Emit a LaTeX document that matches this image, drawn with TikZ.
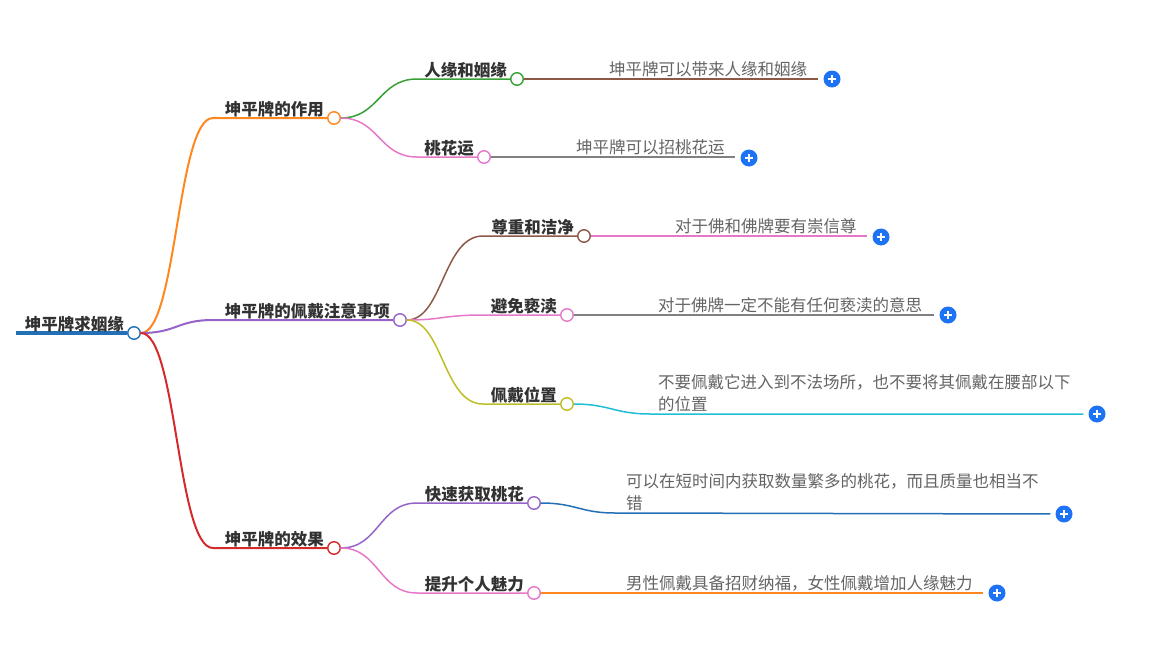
\documentclass[tikz,border=0pt]{standalone}
\usepackage{fontspec}
\setmainfont{Noto Sans CJK SC}
\usetikzlibrary{calc,positioning}
\definecolor{rootblue}{RGB}{35,112,182}
\definecolor{brorange}{RGB}{255,135,30}
\definecolor{brpurple}{RGB}{150,100,200}
\definecolor{brred}{RGB}{212,42,42}
\definecolor{brgreen}{RGB}{55,160,55}
\definecolor{brpink}{RGB}{230,120,200}
\definecolor{brbrown}{RGB}{140,88,72}
\definecolor{brolive}{RGB}{192,190,40}
\definecolor{brcyan}{RGB}{30,190,215}
\definecolor{brblue}{RGB}{35,112,182}
\definecolor{brgray}{RGB}{128,128,128}
\definecolor{plusblue}{RGB}{30,115,245}
\definecolor{textdark}{RGB}{50,50,50}
\definecolor{textgray}{RGB}{100,100,100}
\tikzset{
  topic/.style={font=\bfseries\fontsize{16.5}{20}\selectfont, text=textdark, inner sep=1pt, anchor=south east, xshift=-2pt, yshift=-0.5pt},
  leaf/.style={font=\fontsize{16.5}{22}\selectfont, text=textgray, inner sep=1pt, align=left, anchor=south west},
  dot/.style={circle, draw=#1, fill=white, line width=1.4pt, minimum size=12.5pt, inner sep=0pt},
  plus/.style={circle, fill=plusblue, minimum size=17pt, inner sep=0pt,
    path picture={\draw[white, line width=1.6pt] ($(path picture bounding box.center)+(-4,0)$) -- ++(8,0) ($(path picture bounding box.center)+(0,-4)$) -- ++(0,8);}},
  branch/.style={draw=#1, line width=2pt, line cap=round},
  twig/.style={draw=#1, line width=1.5pt, line cap=round},
  stem/.style={draw=#1, line width=1.5pt, shorten >=5pt}
}
\begin{document}
\begin{tikzpicture}[x=1pt, y=-1pt]
  \useasboundingbox (0,0) rectangle (1168,645);

  % root
  \node[dot=rootblue] (rootdot) at (134,333) {};
  \coordinate (rootstart) at (16,333);
  \draw[rootblue, line width=4pt] (rootstart) -- (rootdot.west);
  \node[topic] (root) at (rootdot.west) {坤平牌求姻缘};

  % first level
  \node[dot=brorange] (zydot) at (334,118) {};
  \node[dot=brpurple] (pddot) at (400,320) {};
  \node[dot=brred] (xgdot) at (334,548) {};
  \node[topic] (zy) at (zydot.west) {坤平牌的作用};
  \node[topic] (pd) at (pddot.west) {坤平牌的佩戴注意事项};
  \node[topic] (xg) at (xgdot.west) {坤平牌的效果};
  \coordinate (zyin) at (213,118);
  \coordinate (pdin) at (213,320);
  \coordinate (xgin) at (213,548);
  \draw[branch=brorange] (rootdot.east) .. controls +(36,0) and +(-36,0) .. (zyin) -- (zydot.west);
  \draw[branch=brpurple] (rootdot.east) .. controls +(36,0) and +(-36,0) .. (pdin) -- (pddot.west);
  \draw[branch=brred] (rootdot.east) .. controls +(36,0) and +(-36,0) .. (xgin) -- (xgdot.west);

  % second level
  \node[dot=brgreen] (rydot) at (517,79) {};
  \node[dot=brpink] (thdot) at (484,157) {};
  \node[dot=brbrown] (zzdot) at (584,236) {};
  \node[dot=brpink] (bmdot) at (567,315) {};
  \node[dot=brolive] (wzdot) at (567,404) {};
  \node[dot=brpurple] (kcdot) at (534,503) {};
  \node[dot=brpink] (tsdot) at (534,593) {};
  \node[topic] (ry) at (rydot.west) {人缘和姻缘};
  \node[topic] (th) at (thdot.west) {桃花运};
  \node[topic] (zz) at (zzdot.west) {尊重和洁净};
  \node[topic] (bm) at (bmdot.west) {避免亵渎};
  \node[topic] (wz) at (wzdot.west) {佩戴位置};
  \node[topic] (kc) at (kcdot.west) {快速获取桃花};
  \node[topic] (ts) at (tsdot.west) {提升个人魅力};
  \coordinate (ryin) at (417,79);
  \coordinate (thin) at (417,157);
  \coordinate (zzin) at (483,236);
  \coordinate (bmin) at (483,315);
  \coordinate (wzin) at (483,404);
  \coordinate (kcin) at (417,503);
  \coordinate (tsin) at (417,593);
  \draw[twig=brgreen] (zydot.east) .. controls +(38,0) and +(-38,0) .. (ryin) -- (rydot.west);
  \draw[twig=brpink] (zydot.east) .. controls +(38,0) and +(-38,0) .. (thin) -- (thdot.west);
  \draw[twig=brbrown] (pddot.east) .. controls +(36,0) and +(-40,0) .. (zzin) -- (zzdot.west);
  \draw[twig=brpink] (pddot.east) .. controls +(36,0) and +(-40,0) .. (bmin) -- (bmdot.west);
  \draw[twig=brolive] (pddot.east) .. controls +(36,0) and +(-40,0) .. (wzin) -- (wzdot.west);
  \draw[twig=brpurple] (xgdot.east) .. controls +(38,0) and +(-38,0) .. (kcin) -- (kcdot.west);
  \draw[twig=brpink] (xgdot.east) .. controls +(38,0) and +(-38,0) .. (tsin) -- (tsdot.west);

  % leaves
  \node[leaf] (ryleaf) at (608,78) {坤平牌可以带来人缘和姻缘};
  \node[leaf] (thleaf) at (575,156) {坤平牌可以招桃花运};
  \node[leaf] (zzleaf) at (674,235) {对于佛和佛牌要有崇信尊};
  \node[leaf] (bmleaf) at (657,314) {对于佛牌一定不能有任何亵渎的意思};
  \node[leaf] (wzleaf) at (657,413) {不要佩戴它进入到不法场所，也不要将其佩戴在腰部以下\\的位置};
  \node[leaf] (kcleaf) at (625,512) {可以在短时间内获取数量繁多的桃花，而且质量也相当不\\错};
  \node[leaf] (tsleaf) at (625,592) {男性佩戴具备招财纳福，女性佩戴增加人缘魅力};

  \node[plus] (ryplus) at (832,79) {};
  \node[plus] (thplus) at (749,158) {};
  \node[plus] (zzplus) at (881,237) {};
  \node[plus] (bmplus) at (948,315) {};
  \node[plus] (wzplus) at (1097,414) {};
  \node[plus] (kcplus) at (1064,514) {};
  \node[plus] (tsplus) at (997,593) {};

  \coordinate (wzbend) at (650,414);
  \coordinate (kcbend) at (615,513);
  \draw[stem=brbrown] (rydot.east) -- (ryplus.west |- rydot.east);
  \draw[stem=brgray] (thdot.east) -- (thplus.west |- thdot.east);
  \draw[stem=brpink] (zzdot.east) -- (zzplus.west |- zzdot.east);
  \draw[stem=brgray] (bmdot.east) -- (bmplus.west |- bmdot.east);
  \draw[stem=brcyan] (wzdot.east) .. controls +(35,0) and +(-35,0) .. (wzbend) -- (wzplus.west);
  \draw[stem=brblue] (kcdot.east) .. controls +(35,0) and +(-35,0) .. (kcbend) -- (kcplus.west);
  \draw[stem=brorange] (tsdot.east) -- (tsplus.west |- tsdot.east);
\end{tikzpicture}
\end{document}
